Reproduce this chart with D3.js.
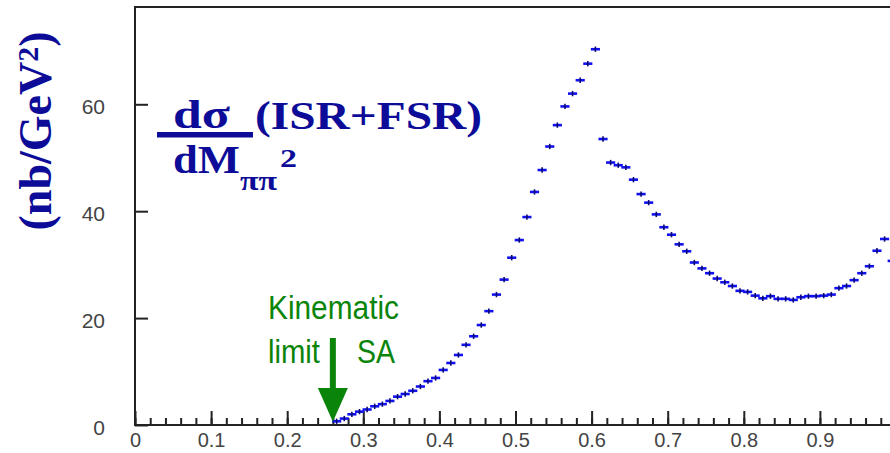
<!DOCTYPE html>
<html>
<head>
<meta charset="utf-8">
<script src="https://cdn.jsdelivr.net/npm/d3@7"></script>
<style>
  body { margin: 0; background: #fff; }
  svg { display: block; }
</style>
</head>
<body>
<script>
// bin centres of M_pipi^2 (GeV^2)
const massBins = [0.265, 0.275, 0.285, 0.295, 0.305, 0.315, 0.325, 0.335, 0.345, 0.355,
    0.365, 0.375, 0.385, 0.395, 0.405, 0.415, 0.425, 0.435, 0.445, 0.455,
    0.465, 0.475, 0.485, 0.495, 0.505, 0.515, 0.525, 0.535, 0.545, 0.555,
    0.565, 0.575, 0.585, 0.595, 0.605, 0.615, 0.625, 0.635, 0.645, 0.655,
    0.665, 0.675, 0.685, 0.695, 0.705, 0.715, 0.725, 0.735, 0.745, 0.755,
    0.765, 0.775, 0.785, 0.795, 0.805, 0.815, 0.825, 0.835, 0.845, 0.855,
    0.865, 0.875, 0.885, 0.895, 0.905, 0.915, 0.925, 0.935, 0.945, 0.955,
    0.965, 0.975, 0.985, 0.995];
// dsigma/dM^2 (nb/GeV^2)
const crossSection = [0.7, 1.2, 2.0, 2.5, 2.9, 3.5, 3.9, 4.5, 5.3, 5.8,
    6.4, 7.2, 8.2, 8.8, 10.3, 11.6, 13.1, 15.0, 16.6, 18.7,
    21.3, 24.4, 27.2, 31.3, 34.6, 38.9, 43.6, 47.7, 52.1, 56.1,
    59.6, 62.0, 64.5, 67.6, 70.3, 53.5, 49.1, 48.6, 48.2, 45.9,
    43.2, 41.6, 39.4, 37.0, 35.6, 33.8, 32.5, 30.4, 29.3, 28.4,
    27.4, 26.7, 26.0, 25.1, 24.9, 24.2, 23.7, 24.1, 23.6, 23.6,
    23.4, 23.9, 24.1, 24.1, 24.2, 24.4, 25.6, 26.0, 27.1, 28.4,
    29.7, 32.6, 34.8, 30.7];
const statError = 0.5;
const binWidth = 0.012;

const xTickValues = [0, 0.1, 0.2, 0.3, 0.4, 0.5, 0.6, 0.7, 0.8, 0.9];
const xTickLabels = ['0', '0.1', '0.2', '0.3', '0.4', '0.5', '0.6', '0.7', '0.8', '0.9'];
const xMinorTicks = d3.range(0, 50).map(i => i * 0.02);
const yTickValues = [0, 20, 40, 60];
const kinematicLimit = 0.26;

const width = 890;
const height = 453;
const margin = {top: 7, bottom: 28, left: 135};

const svg = d3.select('body').append('svg')
    .attr('width', width)
    .attr('height', height);

const x = d3.scaleLinear().domain([0, 1]).range([margin.left, 896]);
const y = d3.scaleLinear().domain([0, 78.2]).range([height - margin.bottom, margin.top]);

const tickFont = '"Liberation Sans", Arial, sans-serif';

// minor x ticks (inward)
svg.append('g')
    .attr('transform', 'translate(0,' + y(0) + ')')
    .call(d3.axisBottom(x).tickValues(xMinorTicks).tickSize(-7).tickFormat(''))
    .call(g => g.select('.domain').remove());

// major x ticks + labels
const xAxis = svg.append('g')
    .attr('transform', 'translate(0,' + y(0) + ')')
    .call(d3.axisBottom(x).tickValues(xTickValues).tickSizeInner(-14).tickSizeOuter(0).tickPadding(27)
        .tickFormat((d, i) => xTickLabels[i]));
xAxis.select('.domain').remove();
xAxis.selectAll('text')
    .style('font-family', tickFont)
    .style('font-size', '20px')
    .attr('fill', '#444')
    .attr('dy', '-0.25em');

const yAxis = svg.append('g')
    .attr('transform', 'translate(' + x(0) + ',0)')
    .call(d3.axisLeft(y).tickValues(yTickValues).tickSizeInner(-13).tickSizeOuter(0).tickPadding(30));
yAxis.select('.domain').remove();
yAxis.selectAll('text')
    .style('font-family', tickFont)
    .style('font-size', '21px')
    .attr('fill', '#444')
    .attr('dy', '0.45em');

svg.selectAll('.tick line').attr('stroke', '#222').attr('stroke-width', 2);

// frame
svg.append('rect')
    .attr('x', x(0))
    .attr('y', y.range()[1])
    .attr('width', x(1) - x(0))
    .attr('height', y(0) - y.range()[1])
    .attr('fill', 'none')
    .attr('stroke', '#222')
    .attr('stroke-width', 2);

// data points with bin-width bars and error ticks
const pts = massBins.map((m, i) => ({m: m, v: crossSection[i]}));
const markers = svg.append('g').attr('stroke', '#1010f0').attr('stroke-width', 2.6);
markers.selectAll('line.h')
    .data(pts).enter().append('line')
    .attr('class', 'h')
    .attr('x1', d => x(d.m - binWidth / 2))
    .attr('x2', d => x(d.m + binWidth / 2))
    .attr('y1', d => y(d.v))
    .attr('y2', d => y(d.v));
markers.selectAll('line.v')
    .data(pts).enter().append('line')
    .attr('class', 'v')
    .attr('x1', d => x(d.m))
    .attr('x2', d => x(d.m))
    .attr('y1', d => y(d.v - statError))
    .attr('y2', d => y(d.v + statError))
    .attr('stroke', '#0a0a70')
    .attr('stroke-width', 1.6);

// kinematic limit annotation
const green = '#0a850a';
const ax = x(kinematicLimit);
svg.append('rect')
    .attr('x', ax - 3).attr('y', 338)
    .attr('width', 6).attr('height', 52)
    .attr('fill', green);
svg.append('path')
    .attr('d', 'M' + (ax - 15) + ',388 L' + (ax + 15) + ',388 L' + ax + ',' + y(0.6) + 'Z')
    .attr('fill', green);

const note = svg.append('g')
    .attr('fill', green)
    .style('font-family', tickFont)
    .style('font-size', '33px');
note.append('text').attr('x', 268).attr('y', 319).attr('textLength', 131).attr('lengthAdjust', 'spacingAndGlyphs').text('Kinematic');
note.append('text').attr('x', 268).attr('y', 363).attr('textLength', 52).attr('lengthAdjust', 'spacingAndGlyphs').text('limit');
note.append('text').attr('x', 357).attr('y', 363).attr('textLength', 38).attr('lengthAdjust', 'spacingAndGlyphs').text('SA');

// title formula
const navy = '#0c0c98';
const serif = '"Liberation Serif", "Times New Roman", serif';
const title = svg.append('g')
    .attr('fill', navy)
    .style('font-family', serif)
    .style('font-weight', 'bold');
title.append('text').attr('x', 173).attr('y', 128).style('font-size', '40px')
    .attr('textLength', 57).attr('lengthAdjust', 'spacingAndGlyphs').text('dσ');
title.append('rect').attr('x', 157).attr('y', 132).attr('width', 96).attr('height', 5.5);
title.append('text').attr('x', 255).attr('y', 129).style('font-size', '40px')
    .attr('textLength', 227).attr('lengthAdjust', 'spacingAndGlyphs').text('(ISR+FSR)');
title.append('text').attr('x', 173).attr('y', 173).style('font-size', '40px')
    .attr('textLength', 67).attr('lengthAdjust', 'spacingAndGlyphs').text('dM');
title.append('text').attr('x', 240).attr('y', 190).style('font-size', '28px')
    .attr('textLength', 37).attr('lengthAdjust', 'spacingAndGlyphs').text('ππ');
title.append('text').attr('x', 280).attr('y', 167).style('font-size', '26px')
    .attr('textLength', 17).attr('lengthAdjust', 'spacingAndGlyphs').text('2');

// y axis unit label
const ylab = svg.append('text')
    .attr('transform', 'translate(51,131) rotate(-90)')
    .attr('text-anchor', 'middle')
    .attr('fill', navy)
    .style('font-family', serif)
    .style('font-weight', 'bold')
    .style('font-size', '46px');
ylab.append('tspan').text('(nb/GeV');
ylab.append('tspan').attr('dy', '-0.45em').style('font-size', '30px').text('2');
ylab.append('tspan').attr('dy', '0.3em').text(')');
</script>
</body>
</html>
